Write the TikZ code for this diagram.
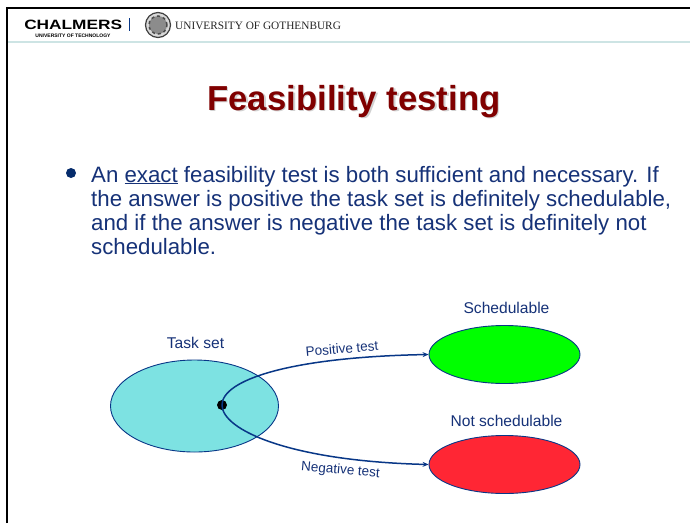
\documentclass[tikz,border=0pt]{standalone}
\usepackage{fontspec}
\setmainfont{Liberation Sans}
\newfontfamily\serifnames{Liberation Serif}
\usetikzlibrary{shapes.geometric,arrows.meta}
\definecolor{navy}{RGB}{8,55,135}
\definecolor{bluetxt}{RGB}{22,50,120}
\definecolor{maroon}{RGB}{128,0,0}
\definecolor{headline}{RGB}{205,228,228}
\definecolor{taskfill}{RGB}{125,226,226}
\tikzset{
  blob/.style={ellipse,draw=navy,line width=0.9pt,inner sep=0pt,minimum width=#1},
  lbl/.style={font=\fontsize{15.6}{18}\selectfont,text=bluetxt,inner sep=0pt},
  edgelbl/.style={font=\fontsize{13.5}{15}\selectfont,text=bluetxt,inner sep=0pt},
  conn/.style={draw=navy,line width=1.5pt},
  bodyline/.style={anchor=base west,inner sep=0pt,text=bluetxt,font=\fontsize{22.25}{26}\selectfont}
}
\begin{document}
\begin{tikzpicture}[x=1pt,y=-1pt]
\useasboundingbox (0,0) rectangle (690,523);
\fill[white] (0,0) rectangle (690,523);
% frame and header
\coordinate (fa) at (7,523); \coordinate (fb) at (7,8); \coordinate (fc) at (690,8);
\draw[black,line width=2pt] (fa) -- (fb) -- (fc);
\coordinate (ha) at (8,42); \coordinate (hb) at (690,42);
\draw[headline,line width=1.2pt] (ha) -- (hb);
% logos
\node[inner sep=0pt,anchor=base west,font=\fontsize{13.5}{15}\selectfont\bfseries,xscale=1.28] (chalmers) at (24,29) {CHALMERS};
\node[inner sep=0pt,font=\fontsize{5}{6}\selectfont\bfseries] (tech) at (73,35.5) {UNIVERSITY OF TECHNOLOGY};
\coordinate (ba) at (129,18); \coordinate (bb) at (129,31);
\draw[navy,line width=0.8pt] (ba) -- (bb);
\node[circle,draw=black!75,fill=black!15,line width=1.2pt,minimum size=25pt,inner sep=0pt] (seal) at (158,25) {};
\node[circle,draw=black!70,fill=black!45,line width=1.5pt,dashed,minimum size=18pt,inner sep=0pt] (sealin) at (158,25) {};
\node[inner sep=0pt,anchor=base west,font=\fontsize{11.3}{13}\selectfont\serifnames,text=black!85] (gu) at (175,29) {UNIVERSITY OF GOTHENBURG};
% title
\node[inner sep=0pt,font=\fontsize{34.7}{36}\selectfont\bfseries,text=black!18] (titleshadow) at (355.5,103) {Feasibility testing};
\node[inner sep=0pt,font=\fontsize{34.7}{36}\selectfont\bfseries,text=maroon] (title) at (354,101.5) {Feasibility testing};
% bullet text
\node[circle,fill=navy!80!black,minimum size=10pt,inner sep=0pt] (bullet) at (71,173) {};
\node[bodyline] (l1) at (91,182) {An \underline{exact} feasibility test is both sufficient and necessary. If};
\node[bodyline] (l2) at (91,206) {the answer is positive the task set is definitely schedulable,};
\node[bodyline] (l3) at (91,230) {and if the answer is negative the task set is definitely not};
\node[bodyline] (l4) at (91,254) {schedulable.};
% diagram
\node[blob=168pt,minimum height=92pt,fill=taskfill] (task) at (194.5,406) {};
\node[blob=151pt,minimum height=58pt,fill=green] (sched) at (504.5,354.5) {};
\node[blob=151pt,minimum height=58pt,fill={rgb,255:red,255;green,38;blue,52}] (nsched) at (504.5,464.5) {};
\node[lbl] (tasklbl) at (195.5,343) {Task set};
\node[lbl] (schedlbl) at (506.5,308) {Schedulable};
\node[lbl] (nschedlbl) at (506.5,421) {Not schedulable};
\node[circle,fill=black,minimum size=10pt,inner sep=0pt] (dot) at (222,405) {};
\draw[conn,-{Stealth[length=6pt,width=5pt]}] (dot.center) .. controls (222,380) and (290,357) .. (sched.west);
\draw[conn,-{Stealth[length=6pt,width=5pt]}] (dot.center) .. controls (222,430) and (290,461) .. (nsched.west);
\node[edgelbl,rotate=5] (pos) at (342,348.5) {Positive test};
\node[edgelbl,rotate=-5] (neg) at (340.5,470.5) {Negative test};
\end{tikzpicture}
\end{document}
